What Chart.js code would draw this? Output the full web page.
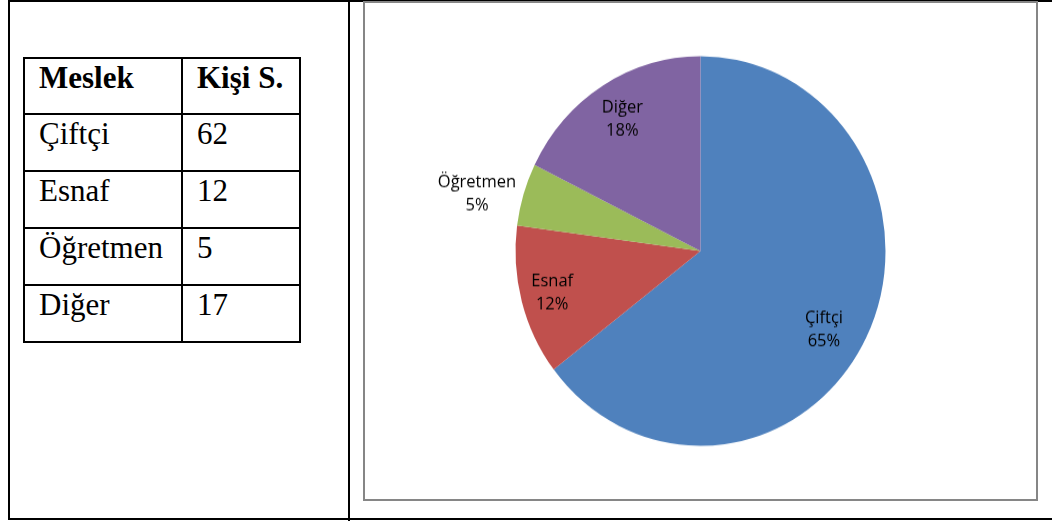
<!DOCTYPE html>
<html>
<head>
<meta charset="utf-8">
<script src="https://cdn.jsdelivr.net/npm/chart.js@4/dist/chart.umd.min.js"></script>
<style>
  html, body { margin: 0; padding: 0; background: #fff; }
  body { width: 1052px; height: 521px; position: relative; overflow: hidden; }
  .frame { position: absolute; left: 8px; top: 0; width: 1200px; height: 516px;
           border-left: 2px solid #000; border-top: 2px solid #000; border-bottom: 2px solid #000; }
  .divider { position: absolute; left: 348px; top: 0; width: 2px; height: 521px; background: #000; }
  table.data { position: absolute; left: 23px; top: 57px; border-collapse: collapse; table-layout: fixed;
               font-family: "Liberation Serif", "Times New Roman", serif; font-size: 31px; color: #000; }
  table.data td { border: 2px solid #000; vertical-align: top; padding: 1px 0 0 14px; height: 57px;
                  box-sizing: border-box; white-space: nowrap; }
  table.data th { border: 2px solid #000; vertical-align: top; padding: 1px 0 0 14px; height: 56px;
                  text-align: left; box-sizing: border-box; white-space: nowrap; }
  .chartbox { position: absolute; left: 363px; top: 1px; width: 671px; height: 496px;
              border: 2px solid #868686; }
  .chartbox canvas { position: absolute; left: 0; top: 0; transform-origin: 0 0; transform: scaleY(1.053); }
</style>
</head>
<body>
<div class="frame"></div>
<div class="divider"></div>
<table class="data" id="tbl">
  <colgroup><col style="width:158px"><col style="width:118px"></colgroup>
</table>
<div class="chartbox">
  <canvas id="myChart" width="671" height="471"></canvas>
</div>
<script>
const headers = ['Meslek', 'Kişi S.']
const meslekler = ['Çiftçi', 'Esnaf', 'Öğretmen', 'Diğer']
const kisiSayisi = [62, 12, 5, 17]
const yuzdeler = ['65%', '12%', '5%', '18%']
const renkler = ['#4F81BD', '#C0504D', '#9BBB59', '#8064A2']

// left-hand table
const tbl = document.getElementById('tbl')
let head = '<tr>' + headers.map(h => `<th>${h}</th>`).join('') + '</tr>'
let rows = meslekler.map((m, i) => `<tr><td>${m}</td><td>${kisiSayisi[i]}</td></tr>`).join('')
tbl.insertAdjacentHTML('beforeend', head + rows)

// label placement: distance as fraction of radius, then a small nudge (Öğretmen sits outside)
const labelDist = [0.78, 0.83, 1.24, 0.8]
const labelNudge = [[-6, 11], [0, 0], [-4, 12], [0, 0]]

const sliceLabels = {
  id: 'sliceLabels',
  afterDatasetsDraw(chart) {
    const ctx = chart.ctx
    const meta = chart.getDatasetMeta(0)
    ctx.save()
    ctx.font = '16.5px "Open Sans", sans-serif'
    ctx.fillStyle = '#000'
    ctx.textAlign = 'center'
    ctx.textBaseline = 'middle'
    meta.data.forEach((arc, i) => {
      const p = arc.getProps(['x', 'y', 'startAngle', 'endAngle', 'outerRadius'], true)
      const mid = (p.startAngle + p.endAngle) / 2
      const r = p.outerRadius * labelDist[i]
      const x = p.x + Math.cos(mid) * r + labelNudge[i][0]
      const y = p.y + Math.sin(mid) * r + labelNudge[i][1]
      ctx.fillText(meslekler[i], x, y - 11)
      ctx.fillText(yuzdeler[i], x, y + 11)
    })
    ctx.restore()
  }
}

new Chart(document.getElementById('myChart'), {
  type: 'pie',
  data: {
    labels: meslekler,
    datasets: [{
      data: kisiSayisi,
      backgroundColor: renkler,
      borderWidth: 0,
      radius: 185
    }]
  },
  options: {
    responsive: false,
    animation: false,
    layout: { padding: 0 },
    plugins: {
      legend: { display: false },
      tooltip: { enabled: false }
    }
  },
  plugins: [sliceLabels]
})
</script>
</body>
</html>
